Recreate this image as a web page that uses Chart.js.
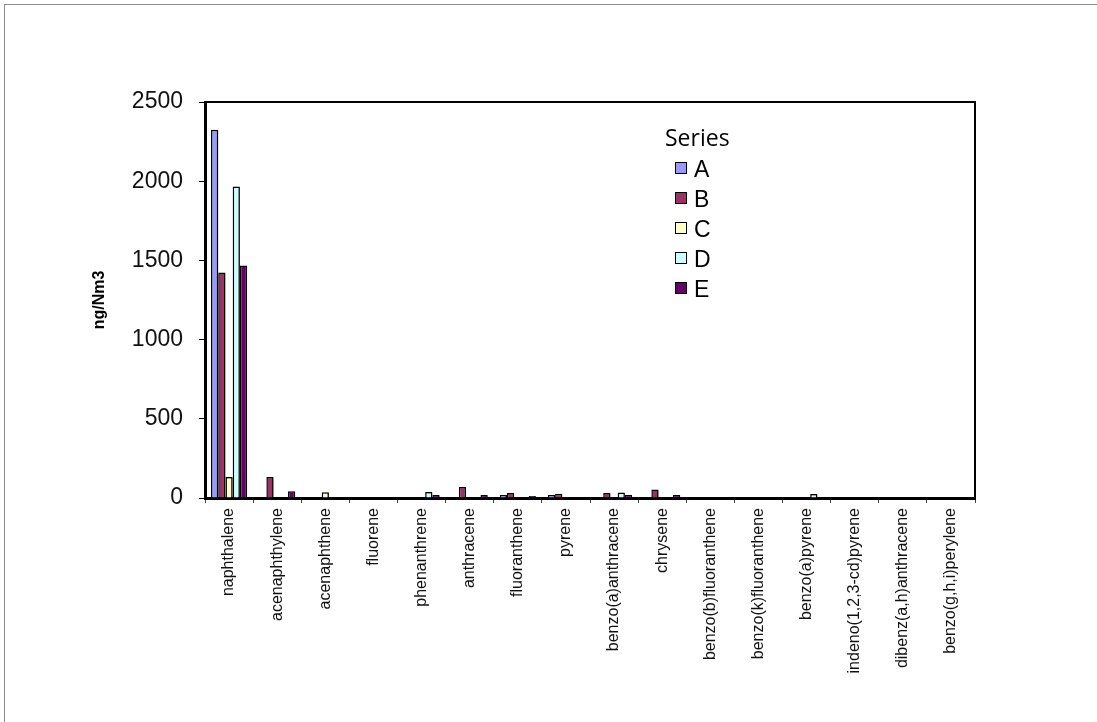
<!DOCTYPE html>
<html>
<head>
<meta charset="utf-8">
<script src="https://cdn.jsdelivr.net/npm/chart.js@4.4.1/dist/chart.umd.min.js"></script>
<style>
  html, body { margin: 0; padding: 0; background: #fff; }
  #frame {
    position: absolute; left: 4px; top: 4px; width: 1093px; height: 718px;
    border-top: 1px solid #8a8a8a; border-left: 1px solid #8a8a8a;
  }
  #wrap { position: absolute; left: 0; top: 0; width: 1097px; height: 722px; }
</style>
</head>
<body>
<div id="frame"></div>
<div id="wrap"><canvas id="c" width="1097" height="722"></canvas></div>
<script>
// PAH concentrations per compound (ng/Nm3)
const compounds = [
  'naphthalene', 'acenaphthylene', 'acenaphthene', 'fluorene', 'phenanthrene',
  'anthracene', 'fluoranthene', 'pyrene', 'benzo(a)anthracene', 'chrysene',
  'benzo(b)fluoranthene', 'benzo(k)fluoranthene', 'benzo(a)pyrene',
  'indeno(1,2,3-cd)pyrene', 'dibenz(a,h)anthracene', 'benzo(g,h,i)perylene'
];
const seriesNames = ['A', 'B', 'C', 'D', 'E'];
const seriesA = [2325, 0, 0, 0, 0, 0, 19, 19, 0, 0, 0, 0, 0, 0, 0, 0];
const seriesB = [1424, 133, 0, 0, 0, 70, 32, 27, 32, 53, 0, 0, 0, 0, 0, 0];
const seriesC = [133, 0, 36, 0, 0, 0, 0, 0, 0, 0, 0, 0, 0, 0, 0, 0];
const seriesD = [1966, 0, 0, 0, 38, 0, 0, 0, 34, 0, 0, 0, 25, 0, 0, 0];
const seriesE = [1468, 42, 0, 0, 19, 19, 13, 0, 19, 19, 0, 0, 0, 0, 0, 0];
const yTicks = [0, 500, 1000, 1500, 2000, 2500];

const colors = ['#9999FF', '#993366', '#FFFFCC', '#CCFFFF', '#660066'];
const values = [seriesA, seriesB, seriesC, seriesD, seriesE];

const datasets = seriesNames.map((name, i) => ({
  label: name,
  data: values[i],
  backgroundColor: colors[i],
  borderColor: '#000',
  borderWidth: 1.5,
  categoryPercentage: 0.75,
  barPercentage: 1.0
}));

// soft drop shadow under the bars
const barShadow = {
  id: 'barShadow',
  beforeDatasetsDraw(chart) {
    const ctx = chart.ctx;
    ctx.save();
    ctx.shadowColor = 'rgba(0,0,0,0.3)';
    ctx.shadowOffsetX = 2;
    ctx.shadowOffsetY = 1;
    ctx.shadowBlur = 0;
  },
  afterDatasetsDraw(chart) {
    chart.ctx.restore();
  }
};

// box around the plot area
const plotBorder = {
  id: 'plotBorder',
  afterDraw(chart) {
    const { ctx, chartArea: a } = chart;
    ctx.save();
    ctx.strokeStyle = '#000';
    ctx.lineWidth = 2;
    ctx.beginPath();
    ctx.moveTo(a.left, a.top);
    ctx.lineTo(a.right, a.top);
    ctx.lineTo(a.right, a.bottom);
    ctx.stroke();
    ctx.restore();
  }
};

// legend with title, drawn inside the plot area
const seriesLegend = {
  id: 'seriesLegend',
  afterDraw(chart) {
    const { ctx, chartArea: a } = chart;
    const x0 = a.left + 460;
    const y0 = a.top + 44;
    ctx.save();
    ctx.fillStyle = '#000';
    ctx.textBaseline = 'alphabetic';
    ctx.textAlign = 'left';
    ctx.font = '23px "Open Sans", "Liberation Sans", sans-serif';
    ctx.fillText('Series', x0, y0);
    ctx.font = '23px "Liberation Sans", Arial, sans-serif';
    chart.data.datasets.forEach((ds, i) => {
      const by = y0 + 16 + i * 30;
      ctx.fillStyle = ds.backgroundColor;
      ctx.fillRect(x0 + 10, by, 12, 12);
      ctx.strokeStyle = '#000';
      ctx.lineWidth = 1;
      ctx.strokeRect(x0 + 10.5, by + 0.5, 11, 11);
      ctx.fillStyle = '#000';
      ctx.fillText(ds.label, x0 + 29, by + 15);
    });
    ctx.restore();
  }
};

new Chart(document.getElementById('c'), {
  type: 'bar',
  data: { labels: compounds, datasets },
  plugins: [barShadow, plotBorder, seriesLegend],
  options: {
    responsive: false,
    animation: false,
    layout: { padding: { left: 88, top: 102, right: 122, bottom: 0 } },
    plugins: {
      legend: { display: false },
      tooltip: { enabled: false }
    },
    scales: {
      x: {
        afterFit(s) { s.height = 224; },
        grid: {
          offset: true,
          drawOnChartArea: false,
          drawTicks: true,
          tickLength: 5,
          color: '#444'
        },
        border: { color: '#000', width: 3 },
        ticks: {
          autoSkip: false,
          minRotation: 90,
          maxRotation: 90,
          padding: 5,
          color: '#111',
          font: { family: '"Liberation Sans", Arial, sans-serif', size: 16 }
        }
      },
      y: {
        min: 0,
        max: 2500,
        afterFit(s) { s.width = 117; },
        afterBuildTicks(s) { s.ticks = yTicks.map(v => ({ value: v })); },
        grid: {
          drawOnChartArea: false,
          drawTicks: true,
          tickLength: 6,
          color: '#000'
        },
        border: { color: '#000', width: 3 },
        ticks: {
          padding: 16,
          color: '#111',
          callback: v => String(v),
          font: { family: '"Liberation Sans", Arial, sans-serif', size: 23 }
        },
        title: {
          display: true,
          text: 'ng/Nm3',
          color: '#000',
          padding: { top: 2, bottom: 0 },
          font: { family: '"Liberation Sans", Arial, sans-serif', size: 16, weight: 'bold' }
        }
      }
    }
  }
});
</script>
</body>
</html>
